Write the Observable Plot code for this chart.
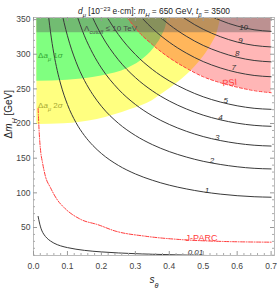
<!DOCTYPE html>
<html><head><meta charset="utf-8">
<script src="https://cdn.jsdelivr.net/npm/d3@7"></script>
<script src="https://cdn.jsdelivr.net/npm/@observablehq/plot@0.6"></script>
<style>body{margin:0;background:#fff} svg{display:block}</style>
</head><body><div id="chart"></div>
<script>
// ---------- data ----------
const titleText = "*d*_(μ) [10^{−23} e·cm]: *m*_(H) = 650 GeV, *t*_(β) = 3500";
const xLabelText = "*s*_(θ)";
const yLabelText = "Δ*m*_(H) [GeV]";

const xMajor = [0, 0.1, 0.2, 0.3, 0.4, 0.5, 0.6, 0.7];
const xMinor = [0.02,0.04,0.06,0.08,0.12,0.14,0.16,0.18,0.22,0.24,0.26,0.28,0.32,0.34,0.36,0.38,0.42,0.44,0.46,0.48,0.52,0.54,0.56,0.58,0.62,0.64,0.66,0.68];
const yMajor = [50, 100, 150, 200, 250, 300, 350];
const yMinor = [10,20,30,40,60,70,80,90,110,120,130,140,160,170,180,190,210,220,230,240,260,270,280,290,310,320,330,340];

const sMin = 0.01, sMax = 0.7, yTop = 360;

// regions
const yellowS  = [0.01, 0.09, 0.188, 0.286, 0.35, 0.384, 0.43, 0.463, 0.49, 0.512, 0.53, 0.541, 0.551, 0.553];
const yellowDm = [198.6, 199.6, 205.8, 220.2, 233, 244.3, 261, 275.4, 290, 304.3, 319, 330.8, 353, 360];
const greenS   = [0.01, 0.1, 0.2, 0.28, 0.33, 0.36, 0.38, 0.392, 0.396];
const greenDm  = [261, 262.5, 268.5, 280, 296, 312, 328, 345, 360];
const psiS     = [0.265, 0.27, 0.3, 0.35, 0.4, 0.45, 0.5, 0.55, 0.6, 0.65, 0.7];
const psiDm    = [366, 360, 338, 314, 295, 280, 267.5, 259, 252.5, 247.5, 244.5];
const cutoffDm = 331;
const jparcS   = [0.0136, 0.0166, 0.0215, 0.026, 0.035, 0.05, 0.07, 0.09, 0.14, 0.19, 0.24, 0.33, 0.43, 0.53, 0.7];
const jparcDm  = [221.6, 189, 158, 145, 124, 107.5, 90, 78.8, 61.5, 54, 45, 37.4, 32.7, 30.3, 28.8];

// contours of d_mu
const c001S  = [0.0136,0.017,0.02,0.025,0.03,0.04,0.05,0.06,0.08,0.1,0.15,0.2,0.3,0.4,0.512];
const c001Dm = [66,58,52,45,40.5,34.5,30.5,27.5,23.5,21,17,14.8,12.2,10.8,9.6];
const c1S  = [0.04,0.045,0.05,0.06,0.07,0.08,0.1,0.125,0.15,0.175,0.2,0.25,0.3,0.35,0.4,0.45,0.5,0.55,0.6,0.65,0.7];
const c1Dm = [375.7,352.1,332.4,300.7,276.5,257.0,227.5,201.5,182.7,168.3,156.8,139.6,127.3,118.2,111.1,105.7,101.4,98.2,95.9,94.4,93.7];
const c2S  = [0.08,0.09,0.1,0.125,0.15,0.175,0.2,0.25,0.3,0.35,0.4,0.45,0.5,0.55,0.6,0.65,0.7];
const c2Dm = [368.9,345.9,326.6,289.3,262.3,241.6,225.0,200.4,182.8,169.6,159.5,151.7,145.5,141.0,137.6,135.4,134.5];
const c3S  = [0.125,0.15,0.175,0.2,0.25,0.3,0.35,0.4,0.45,0.5,0.55,0.6,0.65,0.7];
const c3Dm = [360.3,326.6,300.8,280.2,249.6,227.6,211.2,198.7,188.9,181.2,175.5,171.4,168.7,167.5];
const c4S  = [0.15,0.175,0.2,0.25,0.3,0.35,0.4,0.45,0.5,0.55,0.6,0.65,0.7];
const c4Dm = [382.2,352.0,327.9,292.0,266.4,247.2,232.5,221.1,212.1,205.4,200.5,197.4,196];
const c5S  = [0.2,0.225,0.25,0.3,0.35,0.4,0.45,0.5,0.55,0.6,0.65,0.7];
const c5Dm = [368.9,346.9,328.5,299.7,278.1,261.5,248.7,238.6,231.1,225.6,222.0,220.5];
const c7S  = [0.3,0.325,0.35,0.4,0.45,0.5,0.55,0.6,0.65,0.7];
const c7Dm = [363.5,349.5,337.3,317.3,301.7,289.4,280.3,273.7,269.4,267.5];
const c8S  = [0.35,0.375,0.4,0.45,0.5,0.55,0.6,0.65,0.7];
const c8Dm = [364.4,352.9,342.8,326.0,312.7,302.9,295.6,291.0,289];
const c9S  = [0.4,0.425,0.45,0.475,0.5,0.55,0.6,0.65,0.7];
const c9Dm = [368.3,358.6,350.2,342.6,336.0,325.4,317.6,312.7,310.5];
const c10S  = [0.5,0.525,0.55,0.575,0.6,0.65,0.7];
const c10Dm = [360.3,354.3,349.0,344.4,340.7,335.3,333];

const contourLabels = ["10","9","8","7","5","4","3","2","1","0.01"];
const labelS  = [0.619, 0.61, 0.6, 0.59, 0.566, 0.551, 0.541, 0.526, 0.511, 0.477];
const labelDm = [338.8, 320.4, 301.2, 280.9, 233.2, 209, 180.3, 146.6, 103.4, 13.9];

const cutoffLabel = ["Λ_{cutoff} ≤ 10 TeV"];
const cutoffLabelS = [0.227], cutoffLabelDm = [337];
const sigmaLabels = ["Δ*a*_(μ) 1*σ*", "Δ*a*_(μ) 2*σ*"];
const sigmaLabelS = [0.0135, 0.0135];
const sigmaLabelDm = [298, 226];
const sigmaLabelColor = ["#33a833", "#a8a830"];
const limitLabels = ["PSI", "J-PARC"];
const limitLabelS = [0.578, 0.495];
const limitLabelDm = [259, 34.8];

// ---------- chart ----------
const contours = [[c001S,c001Dm],[c1S,c1Dm],[c2S,c2Dm],[c3S,c3Dm],[c4S,c4Dm],[c5S,c5Dm],[c7S,c7Dm],[c8S,c8Dm],[c9S,c9Dm],[c10S,c10Dm]];
const toTop = (arr) => arr.map(() => yTop);
const FH = 238; // frame height in px for inset ticks
const FW = 241;

const chart = Plot.plot({
  width: 277, height: 290,
  marginTop: 17, marginBottom: 35, marginLeft: 33, marginRight: 3,
  style: {fontFamily: "'Liberation Sans', Arial, sans-serif", fontSize: "8.5px", background: "#fff", color: "#444"},
  x: {domain: [0, 0.71], ticks: xMajor, tickSize: 0, tickPadding: 7, tickFormat: d3.format(".1f"), label: null},
  y: {domain: [9.6, 353], ticks: yMajor, tickSize: 0, tickPadding: 3, label: null},
  marks: [
    Plot.areaY(yellowS, {x: yellowS, y1: yellowDm, y2: toTop(yellowS), fill: "#ffff80", curve: "monotone-x", clip: true}),
    Plot.areaY(greenS, {x: greenS, y1: greenDm, y2: toTop(greenS), fill: "#80ff80", curve: "monotone-x", clip: true}),
    // translucent red: white -> pink, yellow -> orange, green -> olive
    Plot.areaY(psiS, {x: psiS, y1: psiDm, y2: toTop(psiS), fill: "#ff0000", fillOpacity: 0.286, curve: "monotone-x", clip: true}),
    Plot.rect([cutoffDm], {x1: sMin, x2: sMax, y1: d => d, y2: yTop, fill: "#606060", fillOpacity: 0.42, clip: true}),
    ...contours.map(([xs, ys]) => Plot.line(xs, {x: xs, y: ys, stroke: "#3a3a3a", strokeWidth: 1, curve: "monotone-x", clip: true})),
    Plot.line(psiS, {x: psiS, y: psiDm, stroke: "#ff3c3c", strokeWidth: 1, strokeDasharray: "3,2", curve: "monotone-x", clip: true}),
    Plot.line(jparcS, {x: jparcS, y: jparcDm, stroke: "#ff3c3c", strokeWidth: 1, strokeDasharray: "4,1.5,1,1.5", curve: "monotone-x", clip: true}),
    Plot.text(contourLabels, {x: labelS, y: labelDm, text: d => d, fill: "#333", fontSize: 8, fontStyle: "italic"}),
    Plot.text(cutoffLabel, {x: cutoffLabelS, y: cutoffLabelDm, text: d => d, fill: "#4a4a4a", fontSize: 8}),
    Plot.text(sigmaLabels, {x: sigmaLabelS, y: sigmaLabelDm, text: d => d, fill: sigmaLabelColor, fontSize: 8, textAnchor: "start"}),
    Plot.text(limitLabels, {x: limitLabelS, y: limitLabelDm, text: d => d, fill: "#ff3c3c", fontSize: 9, rotate: [-5, 0]}),
    Plot.frame({stroke: "#bbb"}),
    // inward ticks on all four sides
    Plot.ruleX(xMajor, {x: d => d, insetTop: FH - 4, stroke: "#999"}),
    Plot.ruleX(xMinor, {x: d => d, insetTop: FH - 2, stroke: "#aaa"}),
    Plot.ruleX(xMajor, {x: d => d, insetBottom: FH - 4, stroke: "#999"}),
    Plot.ruleX(xMinor, {x: d => d, insetBottom: FH - 2, stroke: "#aaa"}),
    Plot.ruleY(yMajor, {y: d => d, insetRight: FW - 4, stroke: "#999"}),
    Plot.ruleY(yMinor, {y: d => d, insetRight: FW - 2, stroke: "#aaa"}),
    Plot.ruleY(yMajor, {y: d => d, insetLeft: FW - 4, stroke: "#999"}),
    Plot.ruleY(yMinor, {y: d => d, insetLeft: FW - 2, stroke: "#aaa"}),
    // title and axis labels
    Plot.text([titleText], {frameAnchor: "top", dy: -9, text: d => d, fontSize: 8.4, fill: "#222"}),
    Plot.text([xLabelText], {frameAnchor: "bottom", dy: 27, text: d => d, fontSize: 10, fill: "#222"}),
    Plot.text([yLabelText], {frameAnchor: "left", dx: -25, dy: 2, rotate: -90, text: d => d, fontSize: 10, fill: "#222"})
  ]
});

// turn the light markup (_{sub}, _(italic sub), ^{sup}, *italic*) into tspans
const NS = "http://www.w3.org/2000/svg";
function rich(el) {
  const src = el.textContent;
  if (!/[_^*]/.test(src)) return;
  el.textContent = "";
  const re = /(_\{[^}]*\}|_\([^)]*\)|\^\{[^}]*\}|\*[^*]*\*|[^_^*]+)/g;
  let m;
  while ((m = re.exec(src))) {
    const t = m[0];
    const ts = document.createElementNS(NS, "tspan");
    if (t.startsWith("_{") || t.startsWith("_(")) {
      ts.textContent = t.slice(2, -1);
      ts.setAttribute("baseline-shift", "sub");
      ts.setAttribute("font-size", "72%");
      if (t[1] === "(") ts.setAttribute("font-style", "italic");
    } else if (t.startsWith("^{")) {
      ts.textContent = t.slice(2, -1);
      ts.setAttribute("baseline-shift", "super");
      ts.setAttribute("font-size", "72%");
    } else if (t.startsWith("*")) {
      ts.textContent = t.slice(1, -1);
      ts.setAttribute("font-style", "italic");
    } else {
      ts.textContent = t;
    }
    el.appendChild(ts);
  }
}
chart.querySelectorAll("text").forEach(rich);
document.getElementById("chart").appendChild(chart);
</script>
</body></html>
